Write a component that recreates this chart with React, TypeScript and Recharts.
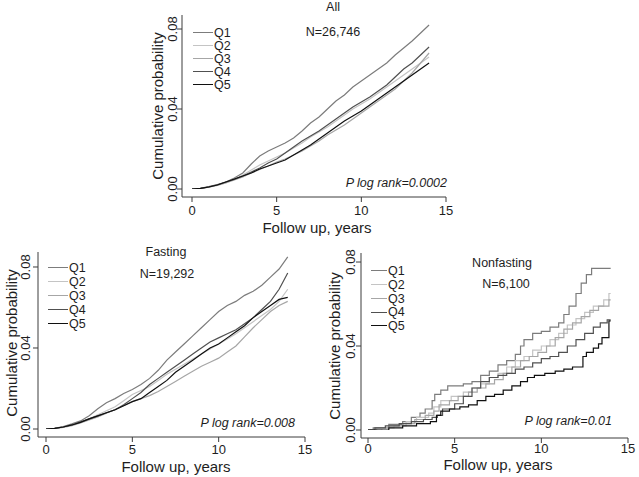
import React from "react";
import { LineChart, Line, XAxis, YAxis } from "recharts";

// follow-up grid (years) for the "All" and "Fasting" panels
const years = [0, 0.5, 1, 1.5, 2, 2.5, 3, 3.5, 4, 4.5, 5, 5.5, 6, 6.5, 7, 7.5, 8, 8.5, 9, 9.5, 10, 10.5, 11, 11.5, 12, 12.5, 13, 13.5, 14];

const quintiles = ["Q1", "Q2", "Q3", "Q4", "Q5"];
const greys = ["#7c7c7c", "#c4c4c4", "#a6a6a6", "#505050", "#101010"];

const xTicks = [0, 5, 10, 15];
const yTicks = [0, 0.04, 0.08];

// All, N=26,746
const allQ1 = [0, 0.0003, 0.001, 0.002, 0.0035, 0.0055, 0.008, 0.0125, 0.0165, 0.019, 0.021, 0.023, 0.0255, 0.029, 0.033, 0.036, 0.04, 0.044, 0.047, 0.051, 0.054, 0.057, 0.06, 0.063, 0.067, 0.0705, 0.074, 0.078, 0.082];
const allQ2 = [0, 0.0003, 0.0011, 0.002, 0.0033, 0.005, 0.007, 0.0095, 0.012, 0.014, 0.016, 0.018, 0.0205, 0.023, 0.026, 0.0285, 0.031, 0.034, 0.037, 0.04, 0.0425, 0.045, 0.048, 0.051, 0.054, 0.057, 0.06, 0.063, 0.066];
const allQ3 = [0, 0.0002, 0.0009, 0.0018, 0.003, 0.0045, 0.006, 0.008, 0.0098, 0.0115, 0.0135, 0.015, 0.017, 0.019, 0.0215, 0.024, 0.027, 0.0295, 0.032, 0.035, 0.038, 0.041, 0.044, 0.047, 0.05, 0.054, 0.058, 0.063, 0.068];
const allQ4 = [0, 0.0003, 0.0012, 0.0022, 0.0035, 0.0048, 0.0065, 0.0085, 0.0105, 0.013, 0.015, 0.018, 0.021, 0.024, 0.0265, 0.029, 0.032, 0.035, 0.038, 0.041, 0.0435, 0.046, 0.049, 0.052, 0.056, 0.06, 0.063, 0.067, 0.071];
const allQ5 = [0, 0.0003, 0.001, 0.002, 0.0035, 0.005, 0.0065, 0.008, 0.01, 0.0115, 0.013, 0.0145, 0.017, 0.0195, 0.022, 0.025, 0.028, 0.031, 0.034, 0.0365, 0.039, 0.042, 0.045, 0.048, 0.051, 0.054, 0.057, 0.06, 0.063];

// Fasting, N=19,292
const fastQ1 = [0, 0.0003, 0.0012, 0.0025, 0.004, 0.0065, 0.01, 0.013, 0.015, 0.0175, 0.0195, 0.022, 0.025, 0.029, 0.034, 0.038, 0.042, 0.046, 0.05, 0.054, 0.058, 0.061, 0.063, 0.066, 0.068, 0.071, 0.075, 0.079, 0.085];
const fastQ2 = [0, 0.0003, 0.001, 0.002, 0.0033, 0.005, 0.007, 0.009, 0.011, 0.014, 0.017, 0.019, 0.021, 0.024, 0.027, 0.0295, 0.032, 0.0345, 0.037, 0.0395, 0.042, 0.0445, 0.047, 0.05, 0.053, 0.056, 0.059, 0.063, 0.069];
const fastQ3 = [0, 0.0002, 0.0008, 0.0016, 0.003, 0.0045, 0.006, 0.0078, 0.0095, 0.0115, 0.0135, 0.015, 0.0165, 0.0185, 0.021, 0.0235, 0.026, 0.0285, 0.031, 0.033, 0.035, 0.038, 0.041, 0.0455, 0.05, 0.054, 0.058, 0.061, 0.063];
const fastQ4 = [0, 0.0003, 0.001, 0.002, 0.0035, 0.005, 0.0065, 0.008, 0.0095, 0.012, 0.015, 0.018, 0.022, 0.025, 0.028, 0.031, 0.034, 0.037, 0.04, 0.043, 0.045, 0.047, 0.049, 0.052, 0.055, 0.059, 0.063, 0.069, 0.077];
const fastQ5 = [0, 0.0003, 0.001, 0.002, 0.0033, 0.005, 0.0065, 0.008, 0.0095, 0.0115, 0.0135, 0.015, 0.018, 0.021, 0.024, 0.028, 0.031, 0.034, 0.037, 0.04, 0.042, 0.045, 0.048, 0.051, 0.055, 0.058, 0.061, 0.064, 0.065];

// Nonfasting, N=6,100 (event times and step values per quintile)
const nfQ1T = [0, 0.3, 1.2, 2, 2.5, 3, 3.3, 3.7, 3.85, 4.2, 4.6, 5.5, 6, 6.5, 7, 7.5, 8, 8.5, 8.8, 9, 9.5, 10, 10.5, 11, 11.3, 11.6, 12, 12.3, 12.6, 12.9, 14];
const nfQ1V = [0, 0.001, 0.0027, 0.004, 0.006, 0.008, 0.01, 0.014, 0.017, 0.019, 0.021, 0.022, 0.023, 0.026, 0.028, 0.031, 0.033, 0.036, 0.04, 0.043, 0.046, 0.047, 0.049, 0.051, 0.055, 0.059, 0.065, 0.07, 0.074, 0.077, 0.077];
const nfQ2T = [0, 0.8, 1.5, 2.2, 2.8, 3.5, 3.8, 4.2, 4.8, 5.5, 6, 6.5, 7, 7.5, 8, 8.5, 9, 9.5, 10, 10.5, 11, 11.5, 12, 12.5, 13, 13.6, 13.9, 14];
const nfQ2V = [0, 0.001, 0.002, 0.004, 0.006, 0.008, 0.011, 0.014, 0.016, 0.018, 0.02, 0.022, 0.025, 0.027, 0.03, 0.033, 0.035, 0.038, 0.04, 0.043, 0.046, 0.05, 0.053, 0.056, 0.059, 0.062, 0.065, 0.065];
const nfQ3T = [0, 0.5, 1.2, 2, 2.7, 3.3, 3.8, 4.1, 4.7, 5.2, 5.8, 6.3, 6.8, 7.3, 7.8, 8.3, 8.8, 9.3, 9.8, 10.3, 10.8, 11.3, 11.8, 12.3, 12.8, 13.3, 13.9, 14];
const nfQ3V = [0, 0.001, 0.002, 0.003, 0.005, 0.007, 0.009, 0.012, 0.014, 0.016, 0.018, 0.02, 0.022, 0.024, 0.027, 0.03, 0.033, 0.035, 0.037, 0.04, 0.044, 0.048, 0.051, 0.054, 0.057, 0.059, 0.062, 0.062];
const nfQ4T = [0, 0.4, 1, 1.8, 2.5, 3.2, 3.7, 4, 4.3, 5, 5.5, 6, 6.5, 7, 7.5, 8, 8.5, 9, 9.5, 10, 10.5, 11, 11.5, 12, 12.5, 13, 13.4, 13.8, 14];
const nfQ4V = [0, 0.001, 0.002, 0.003, 0.004, 0.005, 0.006, 0.007, 0.01, 0.0125, 0.016, 0.02, 0.023, 0.025, 0.026, 0.027, 0.029, 0.03, 0.032, 0.034, 0.035, 0.037, 0.04, 0.043, 0.046, 0.049, 0.051, 0.0525, 0.0525];
const nfQ5T = [0, 1.2, 2, 2.8, 3.6, 3.95, 4.2, 4.7, 5.3, 5.8, 6.3, 6.8, 7.3, 7.8, 8.3, 8.8, 9.2, 9.6, 10.2, 10.8, 11.3, 11.8, 12.4, 12.6, 13, 13.3, 13.5, 13.9, 14];
const nfQ5V = [0, 0.001, 0.002, 0.003, 0.004, 0.007, 0.009, 0.01, 0.011, 0.012, 0.014, 0.016, 0.017, 0.019, 0.021, 0.023, 0.025, 0.026, 0.027, 0.028, 0.029, 0.03, 0.035, 0.037, 0.039, 0.041, 0.044, 0.052, 0.052];

const FONT = '"Liberation Sans", Arial, Helvetica, sans-serif';
const INK = "#1e1e1e";
const AXIS = "#3c3c3c";

const toRows = (cols: number[][]) =>
  years.map((t, i) => {
    const row: any = { t };
    cols.forEach((c, k) => (row[quintiles[k]] = c[i]));
    return row;
  });

const toPts = (ts: number[], vs: number[]) => ts.map((t, i) => ({ t, v: vs[i] }));

const allRows = toRows([allQ1, allQ2, allQ3, allQ4, allQ5]);
const fastRows = toRows([fastQ1, fastQ2, fastQ3, fastQ4, fastQ5]);
const nfSeries = [
  toPts(nfQ1T, nfQ1V),
  toPts(nfQ2T, nfQ2V),
  toPts(nfQ3T, nfQ3V),
  toPts(nfQ4T, nfQ4V),
  toPts(nfQ5T, nfQ5V),
];

const YTick = (props: any) => {
  const { x, y, payload } = props;
  return (
    <text
      x={x}
      y={y}
      transform={`rotate(-90 ${x} ${y})`}
      textAnchor="middle"
      fontSize={13}
      fontFamily={FONT}
      fill={INK}
    >
      {Number(payload.value).toFixed(2)}
    </text>
  );
};

type Box = { left: number; top: number; width: number; height: number };

type PanelProps = {
  box: Box;
  margin: { top: number; right: number; bottom: number; left: number };
  padX: number;
  padY: number;
  yMax: number;
  xTickGap: number;
  yTickGap: number;
  rows?: any[];
  steps?: { t: number; v: number }[][];
};

const Panel = ({ box, margin, padX, padY, yMax, xTickGap, yTickGap, rows, steps }: PanelProps) => (
  <div style={{ position: "absolute", left: box.left, top: box.top }}>
    <LineChart width={box.width} height={box.height} data={rows} margin={margin}>
      <XAxis
        type="number"
        dataKey="t"
        domain={[0, 15]}
        ticks={xTicks}
        interval={0}
        padding={{ left: padX, right: 0 }}
        height={30}
        tickSize={5}
        tickMargin={xTickGap}
        stroke={AXIS}
        tick={{ fontSize: 13, fill: INK, fontFamily: FONT }}
        allowDuplicatedCategory={false}
      />
      <YAxis
        type="number"
        domain={[0, yMax]}
        ticks={yTicks}
        interval={0}
        padding={{ top: 0, bottom: padY }}
        width={30}
        tickSize={5}
        tickMargin={yTickGap}
        stroke={AXIS}
        tick={<YTick />}
        allowDataOverflow
      />
      {rows &&
        quintiles.map((q, k) => (
          <Line
            key={q}
            dataKey={q}
            type="linear"
            stroke={greys[k]}
            strokeWidth={1.2}
            dot={false}
            isAnimationActive={false}
          />
        ))}
      {steps &&
        steps.map((pts, k) => (
          <Line
            key={quintiles[k]}
            data={pts}
            dataKey="v"
            type="stepAfter"
            stroke={greys[k]}
            strokeWidth={1.2}
            dot={false}
            isAnimationActive={false}
          />
        ))}
    </LineChart>
  </div>
);

const Label = ({ x, y, text, size = 12.5, italic = false, align = "center", rotate = false }: any) => {
  let tf = "translate(-50%, -50%)";
  if (align === "right") tf = "translate(-100%, -50%)";
  if (rotate) tf = "translate(-50%, -50%) rotate(-90deg)";
  return (
    <div
      style={{
        position: "absolute",
        left: x,
        top: y,
        transform: tf,
        fontFamily: FONT,
        fontSize: size,
        fontStyle: italic ? "italic" : "normal",
        color: INK,
        lineHeight: 1,
        whiteSpace: "nowrap",
      }}
    >
      {text}
    </div>
  );
};

const Key = ({ x, y, len, gap }: { x: number; y: number; len: number; gap: number }) => (
  <>
    {quintiles.map((q, k) => (
      <div key={q} style={{ position: "absolute", left: x, top: y + k * gap, height: 0 }}>
        <div
          style={{
            position: "absolute",
            left: 0,
            top: -0.6,
            width: len,
            height: 0,
            borderTop: `1.2px solid ${greys[k]}`,
          }}
        />
        <div
          style={{
            position: "absolute",
            left: len + 1,
            top: 0,
            transform: "translateY(-50%)",
            fontFamily: FONT,
            fontSize: 12.5,
            color: INK,
            lineHeight: 1,
          }}
        >
          {q}
        </div>
      </div>
    ))}
  </>
);

export default function App() {
  return (
    <div
      style={{
        position: "absolute",
        left: 0,
        top: 0,
        width: 639,
        height: 477,
        background: "#fff",
        overflow: "hidden",
      }}
    >
      <Panel
        box={{ left: 140, top: 0, width: 320, height: 240 }}
        margin={{ top: 15, right: 14, bottom: 13, left: 12 }}
        padX={10}
        padY={8}
        yMax={0.087}
        xTickGap={4}
        yTickGap={0}
        rows={allRows}
      />
      <Panel
        box={{ left: 0, top: 240, width: 320, height: 237 }}
        margin={{ top: 12, right: 15, bottom: 10, left: 8 }}
        padX={8}
        padY={8}
        yMax={0.0874}
        xTickGap={3}
        yTickGap={3}
        rows={fastRows}
      />
      <Panel
        box={{ left: 320, top: 240, width: 319, height: 237 }}
        margin={{ top: 13, right: 11, bottom: 9, left: 11 }}
        padX={7}
        padY={8}
        yMax={0.0843}
        xTickGap={1}
        yTickGap={1}
        steps={nfSeries}
      />

      <Label x={333} y={7} text="All" />
      <Label x={333} y={32} text="N=26,746" />
      <Label x={447} y={183} text="P log rank=0.0002" italic align="right" />
      <Label x={157} y={106} text="Cumulative probability" size={15} rotate />
      <Label x={317} y={227} text="Follow up, years" size={15} />
      <Key x={193} y={33} len={20} gap={13} />

      <Label x={166} y={252} text="Fasting" />
      <Label x={167} y={274} text="N=19,292" />
      <Label x={295} y={423} text="P log rank=0.008" italic align="right" />
      <Label x={11} y={343} text="Cumulative probability" size={15} rotate />
      <Label x={176} y={466} text="Follow up, years" size={15} />
      <Key x={48} y={268} len={20} gap={14} />

      <Label x={502} y={263} text="Nonfasting" />
      <Label x={506} y={284} text="N=6,100" />
      <Label x={612} y={421} text="P log rank=0.01" italic align="right" />
      <Label x={334} y={346} text="Cumulative probability" size={15} rotate />
      <Label x={498} y={464} text="Follow up, years" size={15} />
      <Key x={371} y={271} len={16} gap={13.75} />
    </div>
  );
}
